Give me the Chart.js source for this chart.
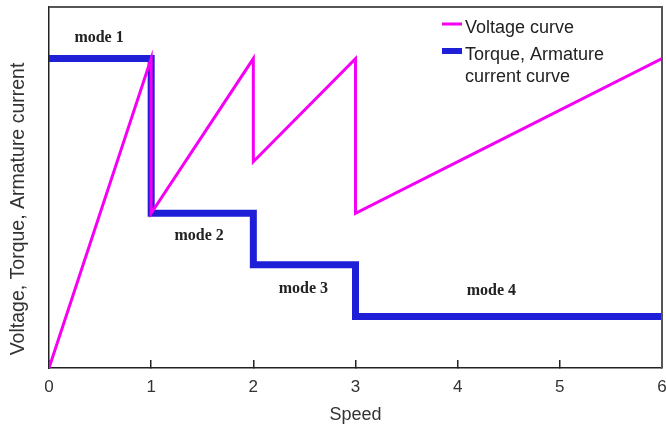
<!DOCTYPE html>
<html>
<head>
<meta charset="utf-8">
<script src="https://cdn.jsdelivr.net/npm/chart.js@4.4.1/dist/chart.umd.min.js"></script>
<style>
  html, body { margin: 0; padding: 0; background: #fff; }
  #wrap { position: relative; width: 666px; height: 429px; }
</style>
</head>
<body>
<div id="wrap"><canvas id="chart"></canvas></div>
<script>
// speed breakpoints and the two curves
const voltageSpeed = [0, 1, 1, 2, 2, 3, 3, 6];
const voltage = [0, 6, 3, 6, 4, 6, 3, 6];
const torqueSpeed = [0, 1, 1, 2, 2, 3, 3, 6];
const torque = [6, 6, 3, 3, 2, 2, 1, 1];

const xTicks = [0, 1, 2, 3, 4, 5, 6];

// operating mode annotations (data coordinates)
const modeLabels = ["mode 1", "mode 2", "mode 3", "mode 4"];
const modeX = [0.49, 1.47, 2.49, 4.33];
const modeY = [6.4, 2.56, 1.53, 1.49];

const legendLines = [["Voltage curve"], ["Torque, Armature", "current curve"]];

const VOLT_COLOR = "#f500f5";
const TORQUE_COLOR = "#1f1fd8";

function toPoints(xs, ys) {
  return xs.map((x, i) => ({ x, y: ys[i] }));
}

const extras = {
  id: "extras",
  afterDraw(chart) {
    const { ctx, chartArea, scales } = chart;
    ctx.save();

    // top / right frame
    ctx.strokeStyle = "#555";
    ctx.lineWidth = 2;
    ctx.beginPath();
    ctx.moveTo(chartArea.left, chartArea.top);
    ctx.lineTo(chartArea.right, chartArea.top);
    ctx.lineTo(chartArea.right, chartArea.bottom);
    ctx.stroke();

    // mode labels
    ctx.fillStyle = "#222";
    ctx.font = "bold 16px 'Liberation Serif'";
    ctx.textAlign = "center";
    ctx.textBaseline = "middle";
    modeLabels.forEach((t, i) => {
      ctx.fillText(t, scales.x.getPixelForValue(modeX[i]), scales.y.getPixelForValue(modeY[i]));
    });

    // y axis title
    ctx.save();
    ctx.translate(19, 209);
    ctx.rotate(-Math.PI / 2);
    ctx.font = "19.5px 'Liberation Sans'";
    ctx.fillStyle = "#333";
    ctx.fillText("Voltage, Torque, Armature current", 0, 0);
    ctx.restore();

    // legend
    ctx.lineCap = "butt";
    ctx.strokeStyle = VOLT_COLOR;
    ctx.lineWidth = 3;
    ctx.beginPath();
    ctx.moveTo(442, 24);
    ctx.lineTo(462, 24);
    ctx.stroke();
    ctx.strokeStyle = TORQUE_COLOR;
    ctx.lineWidth = 6;
    ctx.beginPath();
    ctx.moveTo(442, 51);
    ctx.lineTo(462, 51);
    ctx.stroke();

    ctx.font = "18px 'Liberation Sans'";
    ctx.fillStyle = "#222";
    ctx.textAlign = "left";
    ctx.textBaseline = "alphabetic";
    ctx.fillText(legendLines[0][0], 465, 33);
    ctx.fillText(legendLines[1][0], 465, 60);
    ctx.fillText(legendLines[1][1], 465, 82);

    ctx.restore();
  },
};

new Chart(document.getElementById("chart"), {
  type: "line",
  data: {
    datasets: [
      {
        label: "Voltage curve",
        data: toPoints(voltageSpeed, voltage),
        borderColor: VOLT_COLOR,
        borderWidth: 3,
        pointRadius: 0,
        tension: 0,
      },
      {
        label: "Torque, Armature current curve",
        data: toPoints(torqueSpeed, torque),
        borderColor: TORQUE_COLOR,
        borderWidth: 7,
        pointRadius: 0,
        tension: 0,
      },
    ],
  },
  options: {
    responsive: true,
    maintainAspectRatio: false,
    animation: false,
    layout: { padding: { top: 7, right: 4, left: 0, bottom: 0 } },
    plugins: {
      legend: { display: false },
      tooltip: { enabled: false },
    },
    scales: {
      x: {
        type: "linear",
        min: 0,
        max: 6,
        afterBuildTicks: (s) => { s.ticks = xTicks.map((v) => ({ value: v })); },
        afterFit: (s) => {
          s.height = 61;
          s.paddingLeft = 0;
          s.paddingRight = 0;
        },
        grid: { drawOnChartArea: false, tickLength: -8, color: "#222", lineWidth: 1.5 },
        border: { color: "#222", width: 1.5 },
        ticks: {
          padding: 17,
          color: "#333",
          font: { family: "'Liberation Sans'", size: 17 },
        },
        title: {
          display: true,
          text: "Speed",
          color: "#333",
          font: { family: "'Liberation Sans'", size: 18 },
          padding: { top: 0, bottom: 3 },
        },
      },
      y: {
        type: "linear",
        min: 0,
        max: 7,
        afterFit: (s) => { s.width = 49; },
        grid: { drawOnChartArea: false, drawTicks: false },
        border: { color: "#222", width: 1.5 },
        ticks: { display: false },
      },
    },
  },
  plugins: [extras],
});
</script>
</body>
</html>
